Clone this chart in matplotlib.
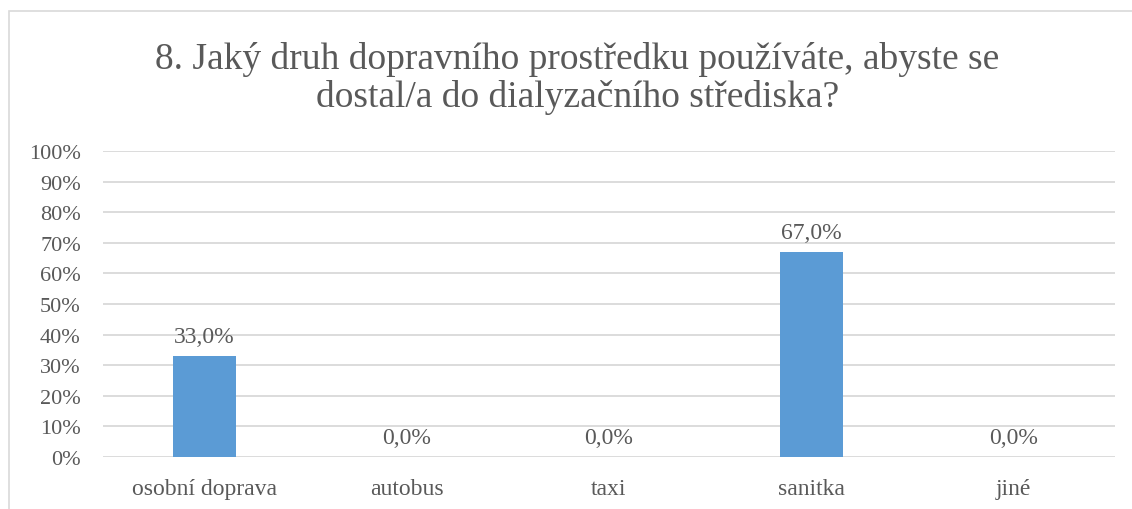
import matplotlib.pyplot as plt
from matplotlib.patches import Rectangle

categories = ['osobní doprava', 'autobus', 'taxi', 'sanitka', 'jiné']
values = [33.0, 0.0, 0.0, 67.0, 0.0]
yticks = list(range(0, 101, 10))

TXT = '#595959'
GRID = '#d9d9d9'
BAR = '#5b9bd5'

plt.rcParams['font.family'] = ['Liberation Serif', 'DejaVu Serif']

fig = plt.figure(figsize=(11.32, 5.10), dpi=100)
ax = fig.add_axes([0.091, 0.102, 0.894, 0.600])

x = range(len(categories))
ax.bar(x, values, width=0.31, color=BAR, zorder=3)
for xi, v in zip(x, values):
    ax.text(xi, v + 3.0, f'{v:.1f}%'.replace('.', ','), ha='center', va='bottom',
            fontsize=17, color=TXT, zorder=4)

ax.set_xlim(-0.5, len(categories) - 0.5)
ax.set_ylim(0, 100)
ax.set_yticks(yticks)
ax.set_yticklabels([f'{t}%' for t in yticks], fontsize=16, color=TXT)
ax.set_xticks(list(x))
ax.set_xticklabels(categories, fontsize=17, color=TXT)
ax.tick_params(length=0)
ax.tick_params(axis='y', pad=16)
ax.tick_params(axis='x', pad=15)
ax.yaxis.grid(True, color=GRID, lw=1.3, zorder=0)
for s in ax.spines.values():
    s.set_visible(False)

fig.text(0.51, 0.846, '8. Jaký druh dopravního prostředku používáte, abyste se\n'
         'dostal/a do dialyzačního střediska?', ha='center', va='center',
         fontsize=27, color=TXT, linespacing=1.13)

fig.patches.append(Rectangle((9 / 1132, -0.01), 1.2, 1 - 12 / 510 + 0.01,
                             transform=fig.transFigure, fill=False,
                             edgecolor='#d9d9d9', lw=1.2))

fig.savefig('out.png', dpi=100)
